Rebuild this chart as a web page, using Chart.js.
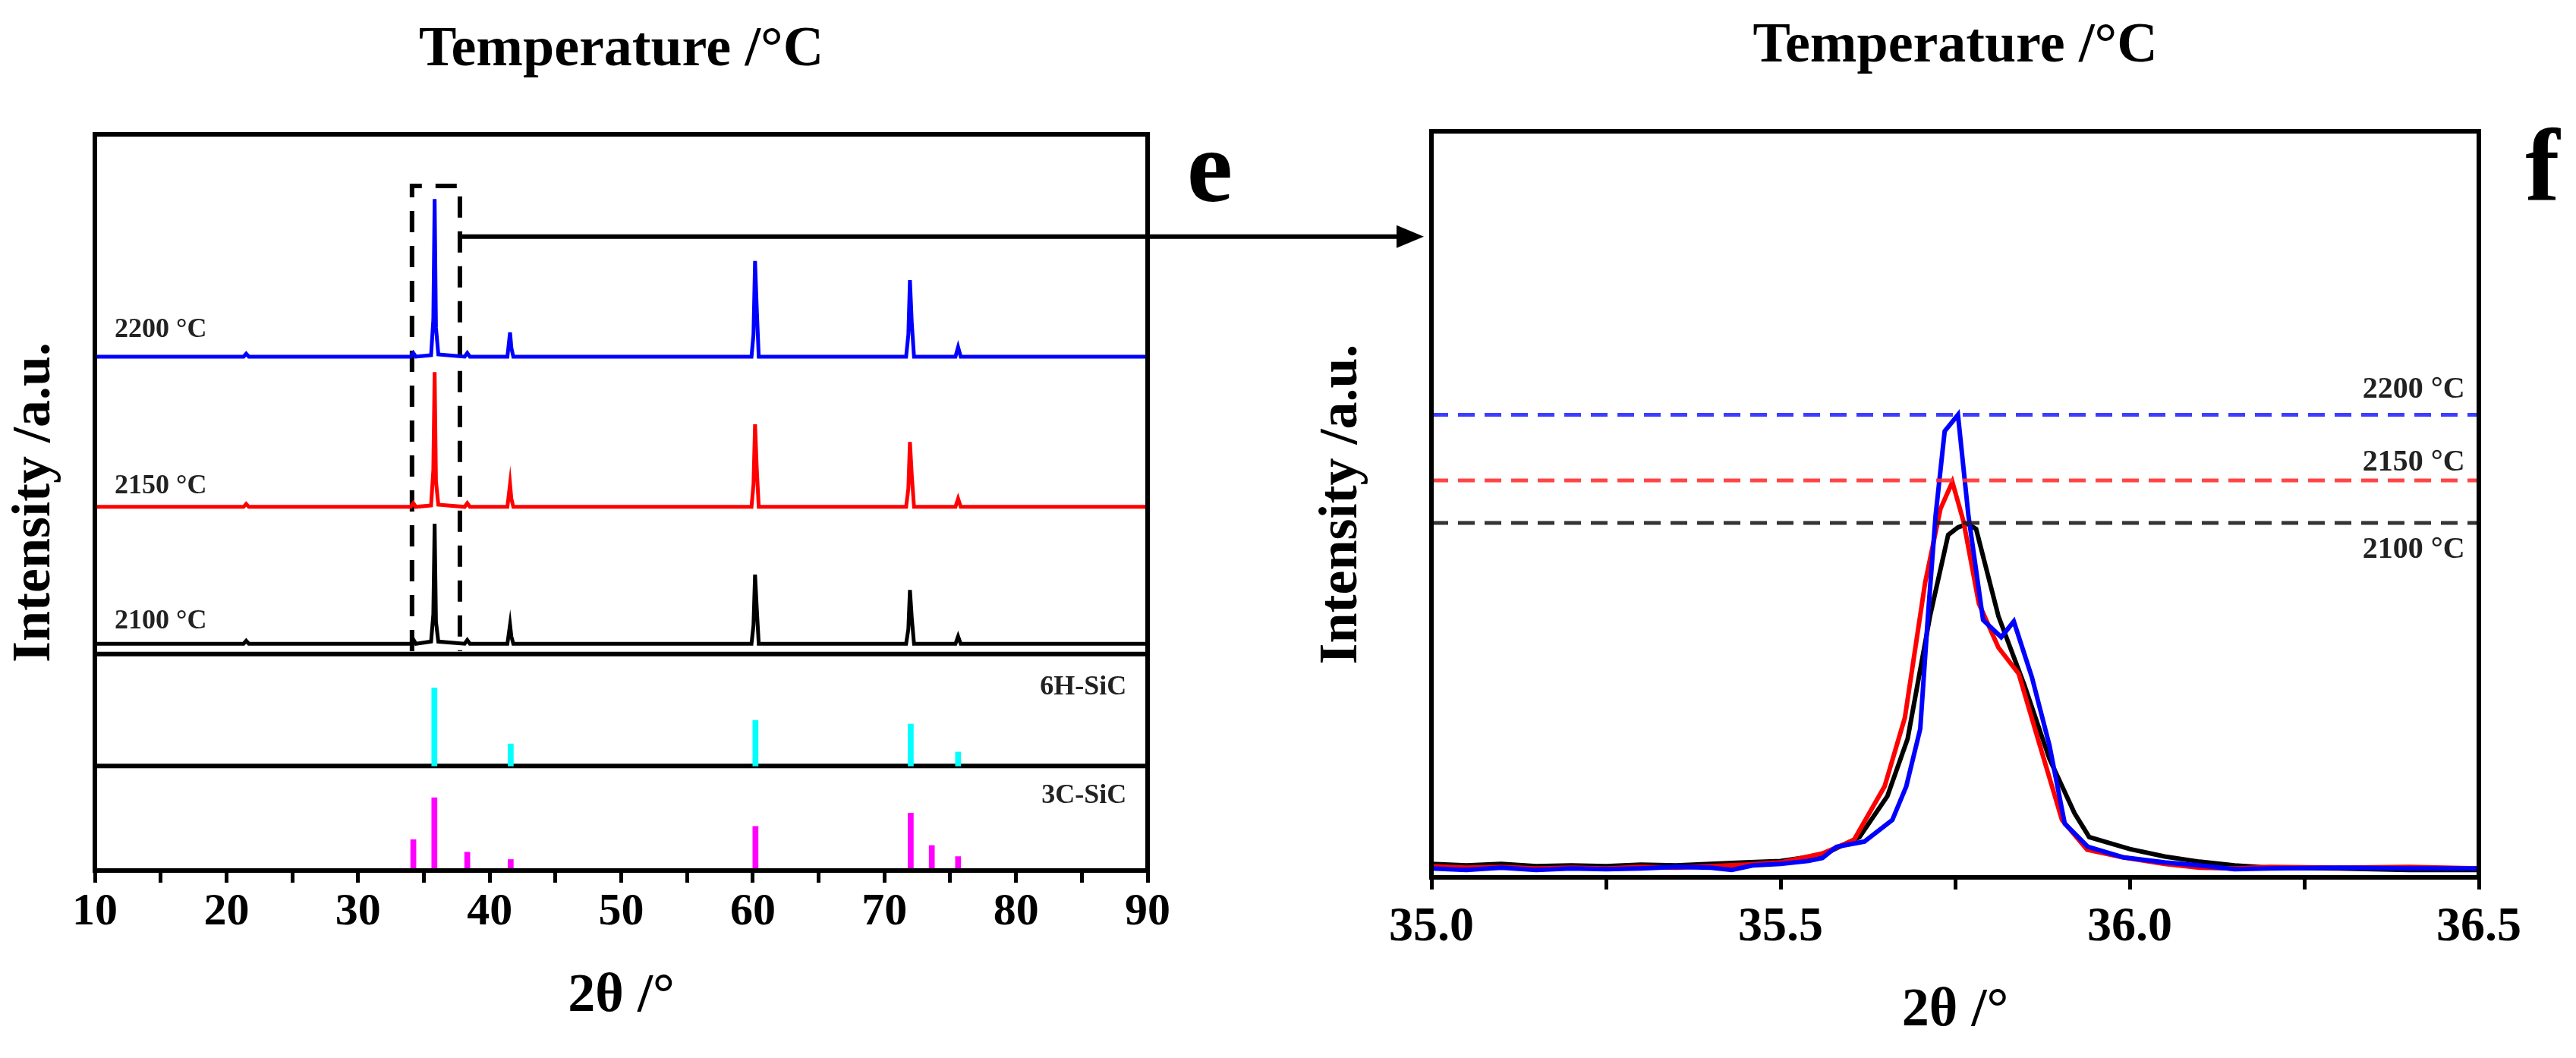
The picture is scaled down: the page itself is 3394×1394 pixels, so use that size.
<!DOCTYPE html>
<html>
<head>
<meta charset="utf-8">
<script src="https://cdn.jsdelivr.net/npm/chart.js@4.4.1/dist/chart.umd.min.js"></script>
<style>
  html, body { margin: 0; padding: 0; background: #fff; }
  #wrap { position: relative; width: 3394px; height: 1394px; overflow: hidden; }
  canvas { position: absolute; top: 0; }
  #chartE { left: 0; }
  #chartF { left: 1600px; }
</style>
</head>
<body>
<div id="wrap">
  <canvas id="chartE" width="1890" height="1394"></canvas>
  <canvas id="chartF" width="1794" height="1394"></canvas>
</div>
<script>
// ---- panel e : full scans, intensity measured above each curve's baseline
const scanTheta = [10, 21.3, 21.5, 21.7, 34.0, 34.2, 34.4, 35.55, 35.72, 35.82, 35.92, 36.1,
  38.1, 38.3, 38.5, 41.35, 41.55, 41.65, 41.8, 59.9, 60.05, 60.17, 60.3, 60.45,
  71.65, 71.82, 71.94, 72.08, 72.25, 75.4, 75.6, 75.8, 90];
const scan2200 = [0, 0, 0.4, 0, 0, 0.5, 0, 0.2, 5, 21.4, 4, 0.3, 0, 0.5, 0, 0, 3.3, 1.2, 0,
  0, 3, 13.0, 6.5, 0, 0, 3, 10.4, 4.6, 0, 0, 1.3, 0, 0];
const scan2150 = [0, 0, 0.4, 0, 0, 0.5, 0, 0.2, 5, 18.3, 3.5, 0.3, 0, 0.5, 0, 0, 3.1, 1.1, 0,
  0, 3, 11.2, 5.2, 0, 0, 2.5, 8.8, 4.3, 0, 0, 1.1, 0, 0];
const scan2100 = [0, 0, 0.4, 0, 0, 0.6, 0, 0.3, 4, 16.3, 3, 0.3, 0, 0.5, 0, 0, 2.6, 1.0, 0,
  0, 2.5, 9.4, 4.8, 0, 0, 2, 7.3, 3.5, 0, 0, 1.0, 0, 0];
const scanOffsets = [69.8, 49.4, 30.8];          // 2200, 2150, 2100
const tempLabels = ['2200 °C', '2150 °C', '2100 °C'];
const tempLabelY = [73.4, 52.2, 33.8];

// reference patterns (stick heights above their strip)
const sixHTheta = [35.8, 41.6, 60.2, 72.0, 75.6];
const sixHInt = [10.6, 3.0, 6.2, 5.7, 1.9];
const threeCTheta = [34.2, 35.8, 38.3, 41.6, 60.2, 72.0, 73.6, 75.6];
const threeCInt = [4.2, 9.9, 2.5, 1.5, 6.0, 7.8, 3.4, 1.9];
const refBases = [14.2, 0];
const refLabels = ['6H-SiC', '3C-SiC'];
const refLabelY = [24.9, 10.1];
const dividers = [29.4, 14.2];

// dashed box around the main peak and the arrow to panel f
const boxTheta = [34.1, 37.74];
const boxY = [29.8, 93.0];
const arrowY = 86.1;

// ---- panel f : zoom on the main peak
const zTheta2200 = [35.00, 35.05, 35.10, 35.15, 35.20, 35.25, 35.30, 35.35, 35.40, 35.43, 35.46, 35.50,
  35.54, 35.56, 35.58, 35.62, 35.66, 35.68, 35.70, 35.711, 35.722, 35.735, 35.754, 35.769, 35.79,
  35.816, 35.834, 35.86, 35.885, 35.907, 35.94, 35.99, 36.05, 36.10, 36.15, 36.20, 36.30, 36.40, 36.50];
const zInt2200 = [1.2, 1.0, 1.3, 1.0, 1.2, 1.1, 1.2, 1.4, 1.3, 1.0, 1.6, 1.8,
  2.2, 2.6, 4.1, 4.8, 7.7, 12.2, 19.9, 35.0, 48.5, 59.8, 62.0, 48.5, 34.5,
  32.2, 34.3, 26.8, 17.7, 7.2, 4.1, 2.7, 2.0, 1.6, 1.1, 1.2, 1.3, 1.2, 1.2];
const zTheta2150 = [35.00, 35.05, 35.10, 35.15, 35.20, 35.25, 35.30, 35.35, 35.40, 35.45, 35.50,
  35.56, 35.605, 35.649, 35.678, 35.707, 35.729, 35.746, 35.762, 35.784, 35.812, 35.841, 35.87,
  35.903, 35.939, 35.99, 36.05, 36.10, 36.15, 36.20, 36.30, 36.40, 36.50];
const zInt2150 = [1.5, 1.3, 1.4, 1.2, 1.3, 1.2, 1.4, 1.3, 1.5, 1.7, 2.0,
  3.2, 5.0, 12.2, 21.4, 39.5, 49.4, 53.0, 47.7, 36.7, 30.8, 27.3, 18.1,
  7.7, 3.7, 2.7, 1.8, 1.3, 1.2, 1.4, 1.3, 1.4, 1.2];
const zTheta2100 = [35.00, 35.05, 35.10, 35.15, 35.20, 35.25, 35.30, 35.35, 35.40, 35.45, 35.50,
  35.56, 35.613, 35.653, 35.682, 35.714, 35.74, 35.754, 35.768, 35.78, 35.812, 35.849, 35.885,
  35.921, 35.942, 35.975, 36.00, 36.05, 36.10, 36.15, 36.20, 36.30, 36.40, 36.50];
const zInt2100 = [1.8, 1.6, 1.8, 1.5, 1.6, 1.5, 1.7, 1.6, 1.8, 2.0, 2.2,
  3.0, 5.4, 10.9, 18.6, 35.0, 45.9, 46.9, 47.4, 46.7, 35.0, 25.8, 15.9,
  8.6, 5.4, 4.5, 3.8, 2.8, 2.1, 1.6, 1.3, 1.2, 1.0, 1.0];
const peakLevels = [62.0, 53.2, 47.5];           // 2200, 2150, 2100
const peakLabelY = [65.3, 55.6, 43.9];
const peakLabelTheta = 36.48;

const serif = '"Liberation Serif", "Times New Roman", serif';
Chart.defaults.font.family = serif;
Chart.defaults.font.weight = 'bold';
Chart.defaults.color = '#000';

function pts(xs, ys, base) {
  return xs.map(function(x, i) { return {x: x, y: ys[i] + (base || 0)}; });
}
function sticks(xs, ys, base) {
  return xs.map(function(x, i) { return {x: x, y: [base, base + ys[i]]}; });
}
function hline(y, x0, x1) {
  return [{x: x0, y: y}, {x: x1, y: y}];
}
function line(data, color, width, extra) {
  return Object.assign({
    type: 'line', data: data, borderColor: color, backgroundColor: color,
    borderWidth: width, pointRadius: 0, tension: 0, fill: false,
    xAxisID: 'x', yAxisID: 'y'
  }, extra || {});
}

const framePlugin = {
  id: 'frame',
  afterDatasetsDraw(chart) {
    const ctx = chart.ctx, a = chart.chartArea;
    ctx.save();
    ctx.strokeStyle = '#000';
    ctx.lineWidth = 6;
    ctx.strokeRect(a.left, a.top, a.right - a.left, a.bottom - a.top);
    ctx.restore();
  }
};

function axes(min, max, step, tickSize, labelFn, sizes) {
  return {
    x: {
      type: 'linear', position: 'bottom', min: min, max: max, offset: false,
      ticks: {stepSize: step, autoSkip: false, maxRotation: 0, padding: sizes.tickPad,
              font: {size: tickSize}, callback: labelFn},
      grid: {display: true, offset: false, drawOnChartArea: false, drawTicks: true, tickLength: 16,
             tickWidth: 5, tickColor: '#000'},
      border: {display: false},
      title: {display: true, text: '2θ /°', font: {size: 72},
              padding: {top: 0, bottom: sizes.xTitlePad}},
      afterFit: function(s) { s.height = sizes.bottom; }
    },
    x2: {
      type: 'linear', axis: 'x', position: 'top', min: min, max: max, offset: false,
      ticks: {display: false}, grid: {display: false, offset: false}, border: {display: false},
      title: {display: true, text: 'Temperature /°C', font: {size: 74},
              padding: {top: sizes.topTitlePad, bottom: 0}},
      afterFit: function(s) { s.height = sizes.top; }
    },
    y: {
      type: 'linear', position: 'left', min: 0, max: 100,
      ticks: {display: false}, grid: {display: false}, border: {display: false},
      title: {display: true, text: 'Intensity /a.u.', font: {size: 72},
              padding: {top: sizes.yTitlePad, bottom: 0}},
      afterFit: function(s) { s.width = sizes.left; }
    }
  };
}

// ---------------- panel e
const chartE = new Chart(document.getElementById('chartE'), {
  type: 'line',
  data: {
    datasets: [
      line(pts(scanTheta, scan2200, scanOffsets[0]), '#0000ff', 5),
      line(pts(scanTheta, scan2150, scanOffsets[1]), '#ff0000', 5),
      line(pts(scanTheta, scan2100, scanOffsets[2]), '#000000', 5),
      {type: 'bar', data: sticks(sixHTheta, sixHInt, refBases[0]), backgroundColor: '#00ffff',
       barThickness: 7, grouped: false, xAxisID: 'x', yAxisID: 'y'},
      {type: 'bar', data: sticks(threeCTheta, threeCInt, refBases[1]), backgroundColor: '#ff00ff',
       barThickness: 7, grouped: false, xAxisID: 'x', yAxisID: 'y'},
      line(hline(dividers[0], 10, 90), '#000', 6),
      line(hline(dividers[1], 10, 90), '#000', 6),
      line([{x: boxTheta[0], y: boxY[0]}, {x: boxTheta[0], y: boxY[1]},
            {x: boxTheta[1], y: boxY[1]}, {x: boxTheta[1], y: boxY[0]}], '#000', 6,
           {borderDash: [28, 18]})
    ]
  },
  options: {
    responsive: false,
    animation: false,
    devicePixelRatio: 1,
    layout: {padding: {left: 0, right: 378, top: 0, bottom: 0}},
    plugins: {legend: {display: false}, tooltip: {enabled: false}, title: {display: false}},
    scales: axes(10, 90, 5, 60,
      function(v) { return v % 10 === 0 ? String(v) : ''; },
      {tickPad: 3, xTitlePad: 37, bottom: 247, top: 177, topTitlePad: 22, left: 125, yTitlePad: 3})
  },
  plugins: [framePlugin, {
    id: 'notesE',
    afterDatasetsDraw(chart) {
      const ctx = chart.ctx, x = chart.scales.x, y = chart.scales.y, a = chart.chartArea;
      ctx.save();
      ctx.fillStyle = '#222';
      ctx.font = 'bold 36px ' + serif;
      ctx.textBaseline = 'middle';
      ctx.textAlign = 'left';
      tempLabels.forEach(function(t, i) {
        ctx.fillText(t, x.getPixelForValue(11.5), y.getPixelForValue(tempLabelY[i]));
      });
      ctx.textAlign = 'right';
      refLabels.forEach(function(t, i) {
        ctx.fillText(t, x.getPixelForValue(88.4), y.getPixelForValue(refLabelY[i]));
      });
      // arrow from the box to panel f
      const x0 = x.getPixelForValue(boxTheta[1]) + 3, ay = y.getPixelForValue(arrowY);
      const tip = chart.width - 14;
      ctx.strokeStyle = '#000';
      ctx.fillStyle = '#000';
      ctx.lineWidth = 6;
      ctx.beginPath(); ctx.moveTo(x0, ay); ctx.lineTo(tip - 30, ay); ctx.stroke();
      ctx.beginPath(); ctx.moveTo(tip, ay); ctx.lineTo(tip - 36, ay - 15); ctx.lineTo(tip - 36, ay + 15);
      ctx.closePath(); ctx.fill();
      // panel letter
      ctx.font = 'bold 136px ' + serif;
      ctx.textAlign = 'center';
      ctx.textBaseline = 'alphabetic';
      ctx.fillText('e', a.right + 82, a.top + 88);
      ctx.restore();
    }
  }]
});

// ---------------- panel f
const chartF = new Chart(document.getElementById('chartF'), {
  type: 'line',
  data: {
    datasets: [
      line(hline(peakLevels[0], 35, 36.5), 'rgba(40,40,255,0.9)', 5, {borderDash: [22, 13], order: 0}),
      line(hline(peakLevels[1], 35, 36.5), 'rgba(255,50,50,0.9)', 5, {borderDash: [22, 13], order: 0}),
      line(hline(peakLevels[2], 35, 36.5), 'rgba(30,30,30,0.9)', 5, {borderDash: [22, 13], order: 0}),
      line(pts(zTheta2200, zInt2200), '#0000ff', 6, {order: 1}),
      line(pts(zTheta2150, zInt2150), '#ff0000', 6, {order: 2}),
      line(pts(zTheta2100, zInt2100), '#000000', 6, {order: 3})
    ]
  },
  options: {
    responsive: false,
    animation: false,
    devicePixelRatio: 1,
    layout: {padding: {left: 0, right: 128, top: 0, bottom: 0}},
    plugins: {legend: {display: false}, tooltip: {enabled: false}, title: {display: false}},
    scales: axes(35, 36.5, 0.25, 64,
      function(v) { return Math.abs(v * 2 - Math.round(v * 2)) < 1e-6 ? v.toFixed(1) : ''; },
      {tickPad: 12, xTitlePad: 18, bottom: 238, top: 173, topTitlePad: 17, left: 286, yTitlePad: 125})
  },
  plugins: [framePlugin, {
    id: 'notesF',
    afterDatasetsDraw(chart) {
      const ctx = chart.ctx, x = chart.scales.x, y = chart.scales.y, a = chart.chartArea;
      ctx.save();
      ctx.fillStyle = '#222';
      ctx.font = 'bold 40px ' + serif;
      ctx.textBaseline = 'middle';
      ctx.textAlign = 'right';
      tempLabels.forEach(function(t, i) {
        ctx.fillText(t, x.getPixelForValue(peakLabelTheta), y.getPixelForValue(peakLabelY[i]));
      });
      ctx.fillStyle = '#000';
      ctx.font = 'bold 136px ' + serif;
      ctx.textAlign = 'center';
      ctx.textBaseline = 'alphabetic';
      ctx.fillText('f', a.right + 84, a.top + 90);
      ctx.restore();
    }
  }]
});
</script>
</body>
</html>
